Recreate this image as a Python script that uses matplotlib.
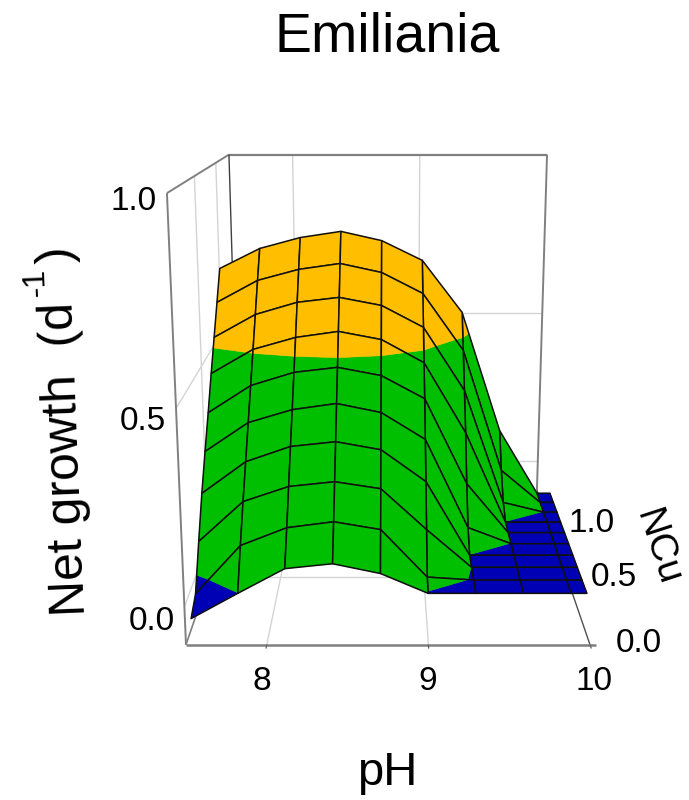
import numpy as np
import matplotlib
matplotlib.use("Agg")
import matplotlib.pyplot as plt
from mpl_toolkits.mplot3d.art3d import Poly3DCollection

plt.rcParams['font.family'] = ['Liberation Sans', 'DejaVu Sans']

ph = [7.5, 7.8, 8.1, 8.4, 8.7, 9.0, 9.3, 9.6, 9.9, 10.0]
ncu = [0.1, 0.2, 0.3, 0.4, 0.5, 0.6, 0.7, 0.8, 0.9, 1.0]

# net growth per pH column, NCu going from 0.1 to 1.0
g_75 = [-0.068, -0.038, 0.072, 0.175, 0.265, 0.350, 0.440, 0.525, 0.610, 0.695]
g_78 = [0.0, 0.094, 0.182, 0.263, 0.346, 0.427, 0.509, 0.591, 0.674, 0.754]
g_81 = [0.066, 0.142, 0.223, 0.305, 0.382, 0.464, 0.543, 0.626, 0.706, 0.786]
g_84 = [0.079, 0.158, 0.236, 0.318, 0.399, 0.478, 0.560, 0.640, 0.723, 0.804]
g_87 = [0.053, 0.137, 0.217, 0.296, 0.374, 0.455, 0.537, 0.617, 0.697, 0.777]
g_90 = [0.0, 0.008, 0.105, 0.208, 0.299, 0.390, 0.471, 0.554, 0.636, 0.719]
g_93 = [0.0, 0.0, 0.0, 0.0, 0.047, 0.145, 0.268, 0.369, 0.468, 0.564]
g_96 = [0.0, 0.0, 0.0, 0.0, 0.0, 0.0, 0.0, 0.030, 0.101, 0.200]
g_99 = [0.0, 0.0, 0.0, 0.0, 0.0, 0.0, 0.0, 0.0, 0.0, 0.0]
g_100 = [0.0, 0.0, 0.0, 0.0, 0.0, 0.0, 0.0, 0.0, 0.0, 0.0]
growth = [g_75, g_78, g_81, g_84, g_87, g_90, g_93, g_96, g_99, g_100]

ph_ticks = [8, 9, 10]
ncu_ticks = [0.0, 0.5, 1.0]
z_ticks = [0.0, 0.5, 1.0]

xlim = (7.5, 10)
ylim = (0, 1.374)
zlim = (-0.1, 1.0)

BLUE = '#0000b4'
GREEN = '#00be00'
ORANGE = '#ffbe00'
BOX = '#808080'
GRID = '#d4d4d4'

W, H = 689, 800


def clip_poly(poly, level, keep_above):
    # Sutherland-Hodgman against one z level
    out = []
    for i in range(len(poly)):
        a = poly[i]
        b = poly[(i + 1) % len(poly)]
        ina = a[2] >= level if keep_above else a[2] <= level
        inb = b[2] >= level if keep_above else b[2] <= level
        if ina:
            out.append(a)
        if ina != inb:
            f = (level - a[2]) / (b[2] - a[2])
            out.append(tuple(a[k] + f * (b[k] - a[k]) for k in range(3)))
    return out


def band_pieces(quad):
    pieces = []
    low = clip_poly(quad, 0.001, False)
    if len(low) > 2:
        pieces.append((low, BLUE))
    mid = clip_poly(clip_poly(quad, 0.001, True), 0.5, False)
    if len(mid) > 2:
        pieces.append((mid, GREEN))
    high = clip_poly(quad, 0.5, True)
    if len(high) > 2:
        pieces.append((high, ORANGE))
    return pieces


def line3(xs, ys, zs, color=BOX, lw=1.4, order=1):
    ax.plot(xs, ys, zs, color=color, lw=lw, zorder=order, solid_capstyle='butt')


def px_text(x, y, s, **kw):
    fig.text(x / W, 1 - y / H, s, ha=kw.pop('ha', 'center'), va=kw.pop('va', 'center'), **kw)


fig = plt.figure(figsize=(W / 100, H / 100), dpi=100)
L = 680
ax = fig.add_axes([38.8 / W, 80.3 / H, L / W, L / H], projection='3d')
ax.computed_zorder = False
ax.set_proj_type('persp', focal_length=233.5 / L)
ax.set_box_aspect((2.0, 2.294, 2.226), zoom=0.958)
ax.view_init(elev=14, azim=-90)
ax.set_xlim(*xlim, view_margin=0)
ax.set_ylim(*ylim, view_margin=0)
ax.set_zlim(*zlim, view_margin=0)
ax.set_axis_off()

x0, x1 = xlim
y0, y1 = ylim
z0, z1 = zlim

# grid on floor and walls
for p in ph_ticks[:2]:
    line3([p, p], [y0, y1], [z0, z0], GRID, 1.0)
    line3([p, p], [y1, y1], [z0, z1], GRID, 1.0)
for n in ncu_ticks[1:]:
    line3([x0, x1], [n, n], [z0, z0], GRID, 1.0)
    line3([x0, x0], [n, n], [z0, z1], GRID, 1.0)
for z in z_ticks[:2]:
    line3([x0, x1], [y1, y1], [z, z], GRID, 1.0)
    line3([x0, x0], [y0, y1], [z, z], GRID, 1.0)

# box edges
line3([x0, x0], [y0, y0], [z0, z1], BOX, 1.4, 2)
line3([x0, x0], [y0, y1], [z1, z1], BOX, 1.4, 2)
line3([x0, x1], [y1, y1], [z1, z1], BOX, 1.6, 2)
line3([x1, x1], [y1, y1], [z0, z1], BOX, 1.4, 2)
line3([x0, x0], [y1, y1], [z0, z1], '#404040', 1.0, 2)
line3([x0, x0], [y0, y1], [z0, z0], BOX, 1.2, 2)
line3([x1, x1], [y0, y1], [z0, z0], '#505050', 1.0, 2)
line3([x0, x1 + 0.035], [y0, y0], [z0, z0], BOX, 1.8, 2)

# ticks under the front edge
for p in ph_ticks:
    line3([p, p], [y0, y0 - 0.025], [z0, z0], '#606060', 0.9, 2)

# surface, painted back to front and from the sides in to the middle
order = 10
centre = 8.75
cols = sorted(range(len(ph) - 1), key=lambda i: -abs(0.5 * (ph[i] + ph[i + 1]) - centre))
for j in range(len(ncu) - 2, -1, -1):
    for i in cols:
        quad = [(ph[i], ncu[j], growth[i][j]),
                (ph[i + 1], ncu[j], growth[i + 1][j]),
                (ph[i + 1], ncu[j + 1], growth[i + 1][j + 1]),
                (ph[i], ncu[j + 1], growth[i][j + 1])]
        for poly, col in band_pieces(quad):
            ax.add_collection3d(Poly3DCollection([poly], facecolors=col, edgecolors=col,
                                                 linewidths=0.4, zorder=order), autolim=False)
            order += 1
        ax.add_collection3d(Poly3DCollection([quad], facecolors=(0, 0, 0, 0), edgecolors='#101010',
                                             linewidths=1.1, zorder=order), autolim=False)
        order += 1

# text
px_text(387, 37, 'Emiliania', fontsize=40)
px_text(387, 773, 'pH', fontsize=34)
px_text(85, 615, 'Net growth  (d', fontsize=36, rotation=92.3, rotation_mode='anchor',
        ha='left', va='baseline')
px_text(45, 296, '-1', fontsize=23, rotation=92.3, rotation_mode='anchor', ha='left', va='baseline')
px_text(71, 262, ')', fontsize=36, rotation=92.3, rotation_mode='anchor', ha='left', va='baseline')
px_text(657, 548, 'NCu', fontsize=28, rotation=-72)

for x, s in zip([262, 428, 594], ph_ticks):
    px_text(x, 682, str(s), fontsize=24)
for (x, y), v in zip([(175, 622), (166, 422), (157, 201)], z_ticks):
    px_text(x, y, '%.1f' % v, fontsize=24, ha='right')
for (x, y), v in zip([(662, 644), (637, 577), (615, 524)], ncu_ticks):
    px_text(x, y, '%.1f' % v, fontsize=24, ha='right')

fig.savefig('out.png', dpi=100)
